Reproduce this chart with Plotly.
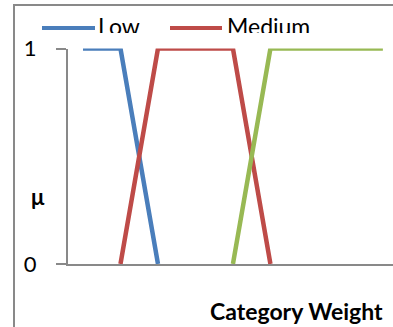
import plotly.graph_objects as go

# Data
x_vals = [0, 1, 2, 3, 4, 5, 6, 7, 8]
low = [1, 1, 0, None, None, None, None, None, None]
medium = [None, 0, 1, 1, 1, 0, None, None, None]
high = [None, None, None, None, 0, 1, 1, 1, 1]
series_names = ["Low", "Medium", "High"]
colors = ["#4A7EBB", "#BE4B48", "#98B954"]
y_ticks = [0, 1]

W, H = 393, 327
GRAY = "#898989"
FONT = "Lato"

fig = go.Figure()
for name, ys, c in zip(series_names, [low, medium, high], colors):
    fig.add_trace(go.Scatter(x=x_vals, y=ys, mode="lines", name=name,
                             line=dict(color=c, width=4.5), cliponaxis=False,
                             showlegend=False, connectgaps=False))

# Legend strip at the top (its lower part is hidden, as in the reference)
leg_items = [("Low", colors[0], 42, 95, 98), ("Medium", colors[1], 170, 222, 227)]
for name, c, xa, xb, xt in leg_items:
    fig.add_trace(go.Scatter(x=[xa, xb], y=[28, 28], mode="lines", line=dict(color=c, width=4),
                             xaxis="x2", yaxis="y2", showlegend=False, hoverinfo="skip"))
    fig.add_trace(go.Scatter(x=[xt], y=[29], mode="text", text=[name], textposition="middle right",
                             textfont=dict(family=FONT, size=23, color="#000000"),
                             xaxis="x2", yaxis="y2", showlegend=False, cliponaxis=True,
                             hoverinfo="skip"))

x0px = 68
ytop, ybot = 48.5, 264
fig.update_layout(
    template="none",
    width=W, height=H, margin=dict(l=0, r=0, t=0, b=0, pad=0, autoexpand=False),
    paper_bgcolor="white", plot_bgcolor="white",
    xaxis=dict(domain=[x0px / W, 1], range=[-0.4, 8.27], showline=True, linecolor=GRAY,
               linewidth=2, showgrid=False, zeroline=False, showticklabels=False, ticks="",
               automargin=False),
    yaxis=dict(domain=[1 - ybot / H, 1 - ytop / H], range=[0, 1], tickvals=y_ticks,
               showline=True, linecolor=GRAY, linewidth=2, showgrid=True, gridcolor=GRAY,
               gridwidth=2, zeroline=False, ticks="outside", ticklen=10, tickwidth=2,
               tickcolor=GRAY, tickfont=dict(family=FONT, size=22, color="#000000"),
               ticklabelstandoff=15, automargin=False),
    xaxis2=dict(domain=[0, 1], range=[0, W], visible=False, fixedrange=True, automargin=False),
    yaxis2=dict(domain=[1 - 33 / H, 1 - 7 / H], range=[33, 7], visible=False, fixedrange=True,
                automargin=False),
    shapes=[dict(type="rect", xref="paper", yref="paper", x0=14 / W, x1=1.2,
                 y0=-0.2, y1=1 - 5 / H, line=dict(color=GRAY, width=2), layer="below")],
    annotations=[
        dict(text="<b>μ</b>", x=38 / W, y=1 - 196 / H, xref="paper", yref="paper",
             xanchor="center", yanchor="middle", showarrow=False,
             font=dict(family=FONT, size=22, color="#000000")),
        dict(text="<b>Category Weight</b>", x=296 / W, y=1 - 311 / H, xref="paper",
             yref="paper", xanchor="center", yanchor="middle", showarrow=False,
             font=dict(family=FONT, size=23, color="#000000")),
    ],
)

fig.write_html("out.html", config={"displayModeBar": False},
               post_script="document.body.style.margin='0px';")
